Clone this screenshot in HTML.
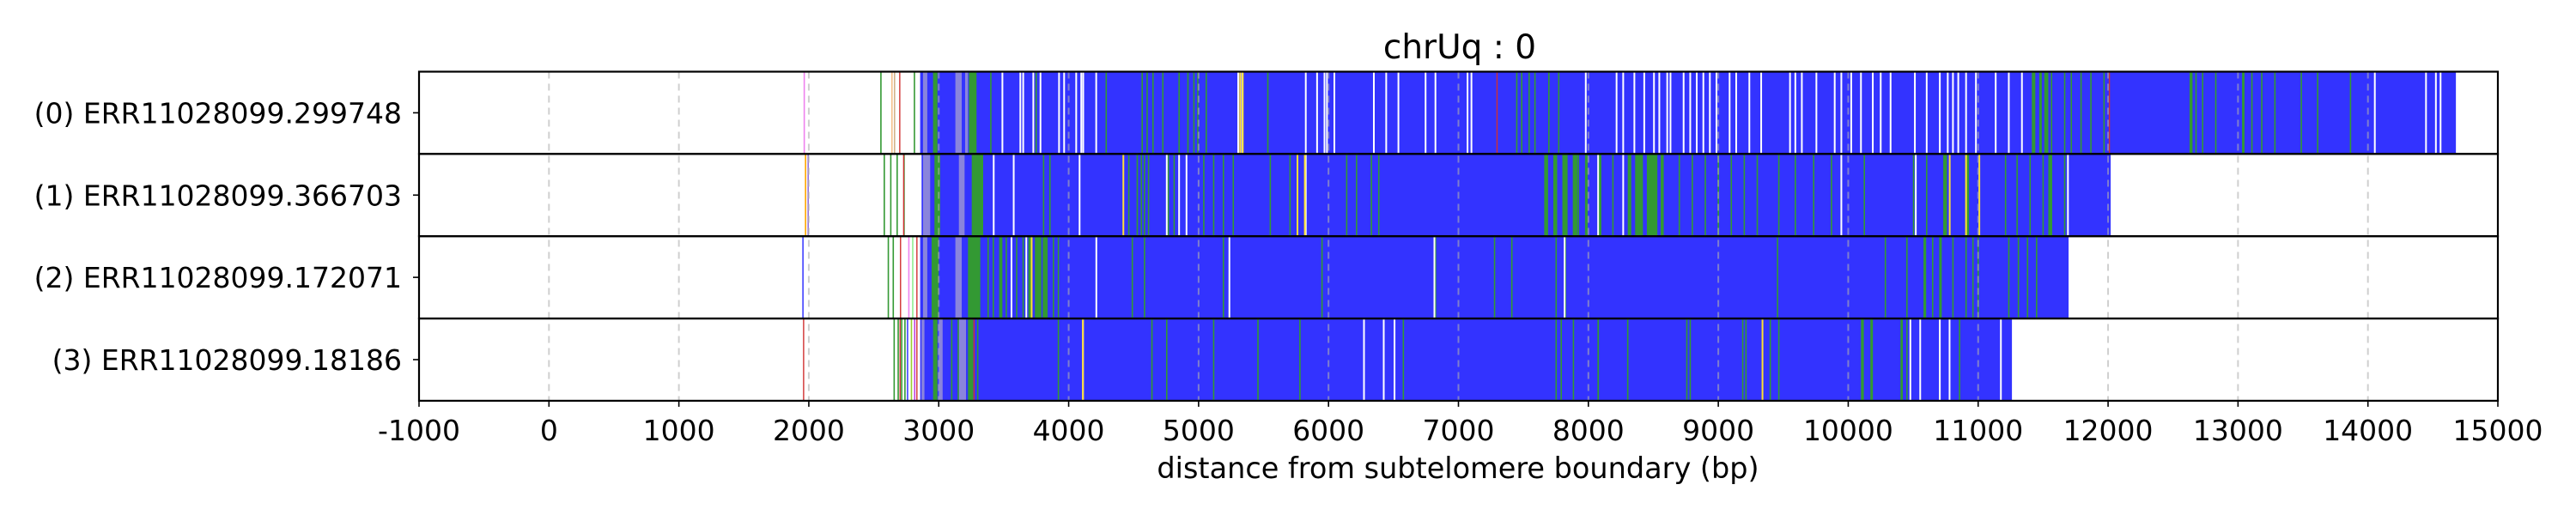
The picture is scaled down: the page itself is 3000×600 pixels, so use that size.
<!DOCTYPE html>
<html><head><meta charset="utf-8"><style>
html,body{margin:0;padding:0;background:#fff;}
svg{display:block;font-family:"DejaVu Sans","Liberation Sans",sans-serif;}
</style></head><body>
<svg id="chart" width="3000" height="600" viewBox="0 0 3000 600" xmlns="http://www.w3.org/2000/svg">
<rect width="3000" height="600" fill="#fff"/>
<text x="1700" y="68" font-size="39" text-anchor="middle">chrUq : 0</text>
<text x="1698" y="557" font-size="33.5" text-anchor="middle">distance from subtelomere boundary (bp)</text>
<g id="marks"></g>
<g id="grid"></g>
<g id="frames"></g>
<g id="ticks"></g>
</svg>
<script>
const readNames = ["(0) ERR11028099.299748","(1) ERR11028099.366703","(2) ERR11028099.172071","(3) ERR11028099.18186"];
const blueStart = [2857, 2868, 2857, 2857];
const blueEnd = [14677, 12020, 11696, 11260];
const lavenderBands = [
  [[2879,2912],[3128,3177],[3203,3225]],
  [[2879,2934],[3155,3199]],
  [[2879,2912],[3128,3177]],
  [[2868,2890],[3000,3030],[3155,3210]]
];
const greenBands = [
  [[2956,2990],[3232,3291],[11413,11440],[11470,11490],[11514,11540],[12627,12650],[13031,13050]],
  [[2967,3011],[3254,3342],[7660,7690],[7730,7760],[7800,7840],[7880,7915],[7974,7995],[8080,8100],[8303,8330],[8360,8420],[8450,8531],[8556,8580],[10731,10760],[10900,10930],[11540,11570]],
  [[2945,3000],[3225,3320],[3465,3490],[3690,3720],[3740,3790],[3800,3838],[10579,10600],[10700,10720]],
  [[2956,2990],[3225,3265],[10098,10120],[10170,10190],[10402,10420]]
];
const greenLines = [
  [2555,2813,3401,3750,4289,4566,4604,4649,4725,4850,4918,4964,4994,5059,5533,7449,7487,7544,7589,7696,7772,11514,11565,11666,11717,11792,11868,11969,12677,12728,12829,13107,13183,13284,13487,13613,13866],
  [2581,2631,2680,2733,3807,3856,4463,4528,4560,4584,4615,4767,4812,5040,5116,5191,5267,5552,5704,6140,6216,6330,6387,7923,8189,8700,8800,8900,9000,9100,9200,9300,9466,9593,9734,9871,10124,10503,10604,11211,11300,11400,11500,11666],
  [2612,2650,3380,3420,3520,3600,3650,3883,3921,4490,4584,5191,5950,6823,7278,7411,7752,7823,9456,10286,10452,10650,10806,10907,10960,11000,11236,11310,11380,11450],
  [2657,2688,2715,2740,3100,3150,3300,3921,4641,4755,5116,5457,5780,6425,6576,7752,7791,7885,8075,8076,8303,8758,8784,9188,9213,9340,9400,9466,10452,10705,10857]
];
const whiteLines = [
  [3490,3628,3650,3728,3783,3926,3965,4058,4097,4112,4212,5305,5336,5825,5912,5969,5988,6045,6349,6444,6538,6747,6823,7070,7100,7980,8217,8268,8354,8430,8505,8546,8607,8632,8733,8784,8834,8885,8935,8986,9087,9138,9239,9330,9552,9593,9643,9755,9896,9947,10023,10098,10189,10250,10326,10513,10604,10705,10766,10806,10847,10907,10983,11135,11236,11337,14053,14447,14523,14559],
  [3423,3577,4084,4755,4850,4907,5825,8075,8268,9947,10520,11691],
  [3560,3674,4213,5237,6815,7817],
  [4110,6273,6425,6508,10478,10554,10705,10780,11175]
];
const yellowLines = [
  [5320,5340],
  [4421,5761,5818,10781,10907,11009],
  [3715],
  [4110,9340]
];
const redLines = [
  [2700,7297,12010],
  [2730],
  [2706,2832],
  [1960,2703,2832,3272]
];
const otherLines = [
  [[1965,"#ee82ee"],[2640,"#f4c08a"],[2660,"#d2b48c"]],
  [[1975,"#ffa500"],[1995,"#9370db"]],
  [[1955,"#4040ff"],[2770,"#ee82ee"],[2800,"#90ee90"]],
  [[2760,"#4040ff"],[2790,"#9acd32"],[2815,"#c040e0"]]
];
const xTicks = [-1000,0,1000,2000,3000,4000,5000,6000,7000,8000,9000,10000,11000,12000,13000,14000,15000];

const X0 = 488, X1 = 2909, XMIN = -1000, XMAX = 15000;
const Y0 = 83.5, ROWH = 95.85;
function xs(v){ return X0 + (v - XMIN) * (X1 - X0) / (XMAX - XMIN); }
function rowTop(i){ return Y0 + i * ROWH; }
const NS = "http://www.w3.org/2000/svg";
function mk(tag, attrs, parent){
  const e = document.createElementNS(NS, tag);
  for (const k in attrs) e.setAttribute(k, attrs[k]);
  parent.appendChild(e);
  return e;
}
const marks = document.getElementById('marks');
const grid = document.getElementById('grid');
const frames = document.getElementById('frames');
const ticks = document.getElementById('ticks');

function band(i, a, b, color, name){
  const x = xs(a), w = Math.max(xs(b) - x, 1);
  const r = mk('rect', {x:x, y:rowTop(i), width:w, height:ROWH, fill:color}, marks);
  
  
}
function line(i, v, color, w, name){
  const r = mk('rect', {x:xs(v) - w/2, y:rowTop(i), width:w, height:ROWH, fill:color}, marks);
  
  
}

for (let i = 0; i < readNames.length; i++){
  band(i, blueStart[i], blueEnd[i], '#3333ff', 'blue-segment-row' + i);
  lavenderBands[i].forEach(b => band(i, b[0], b[1], '#8a84dc', 'lavender-band-row' + i));
  greenBands[i].forEach(b => band(i, b[0], b[1], '#339933', 'green-band-row' + i));
  greenLines[i].forEach(v => line(i, v, '#339933', 1.6, 'green-line-row' + i));
  whiteLines[i].forEach(v => line(i, v, '#ffffff', 2, 'white-gap-row' + i));
  yellowLines[i].forEach(v => line(i, v, '#ffe033', 2, 'yellow-line-row' + i));
  redLines[i].forEach(v => line(i, v, '#d03030', 1.4, 'red-line-row' + i));
  otherLines[i].forEach(o => line(i, o[0], o[1], 1.6, 'misc-line-row' + i));
}

xTicks.forEach(t => {
  const x = xs(t);
  const g = mk('line', {x1:x, x2:x, y1:Y0, y2:Y0 + 4*ROWH, stroke:'#b0b0b0', 'stroke-width':2, 'stroke-dasharray':'8,6', opacity:0.6}, grid);
  
  
  const tk = mk('line', {x1:x, x2:x, y1:Y0 + 4*ROWH, y2:Y0 + 4*ROWH + 7, stroke:'#000', 'stroke-width':1.6}, ticks);
  
  
  const tl = mk('text', {x:x, y:513, 'font-size':33, 'text-anchor':'middle'}, ticks);
  tl.textContent = String(t);
  
  
});

for (let i = 0; i < readNames.length; i++){
  const f = mk('rect', {x:X0, y:rowTop(i), width:X1 - X0, height:ROWH, fill:'none', stroke:'#000', 'stroke-width':2.2}, frames);
  
  
  const cy = rowTop(i) + ROWH/2;
  const tk = mk('line', {x1:X0 - 7, x2:X0, y1:cy, y2:cy, stroke:'#000', 'stroke-width':1.6}, ticks);
  
  
  const tl = mk('text', {x:468, y:cy + 12, 'font-size':33, 'text-anchor':'end'}, ticks);
  tl.textContent = readNames[i];
  
  
}
</script>
</body></html>
